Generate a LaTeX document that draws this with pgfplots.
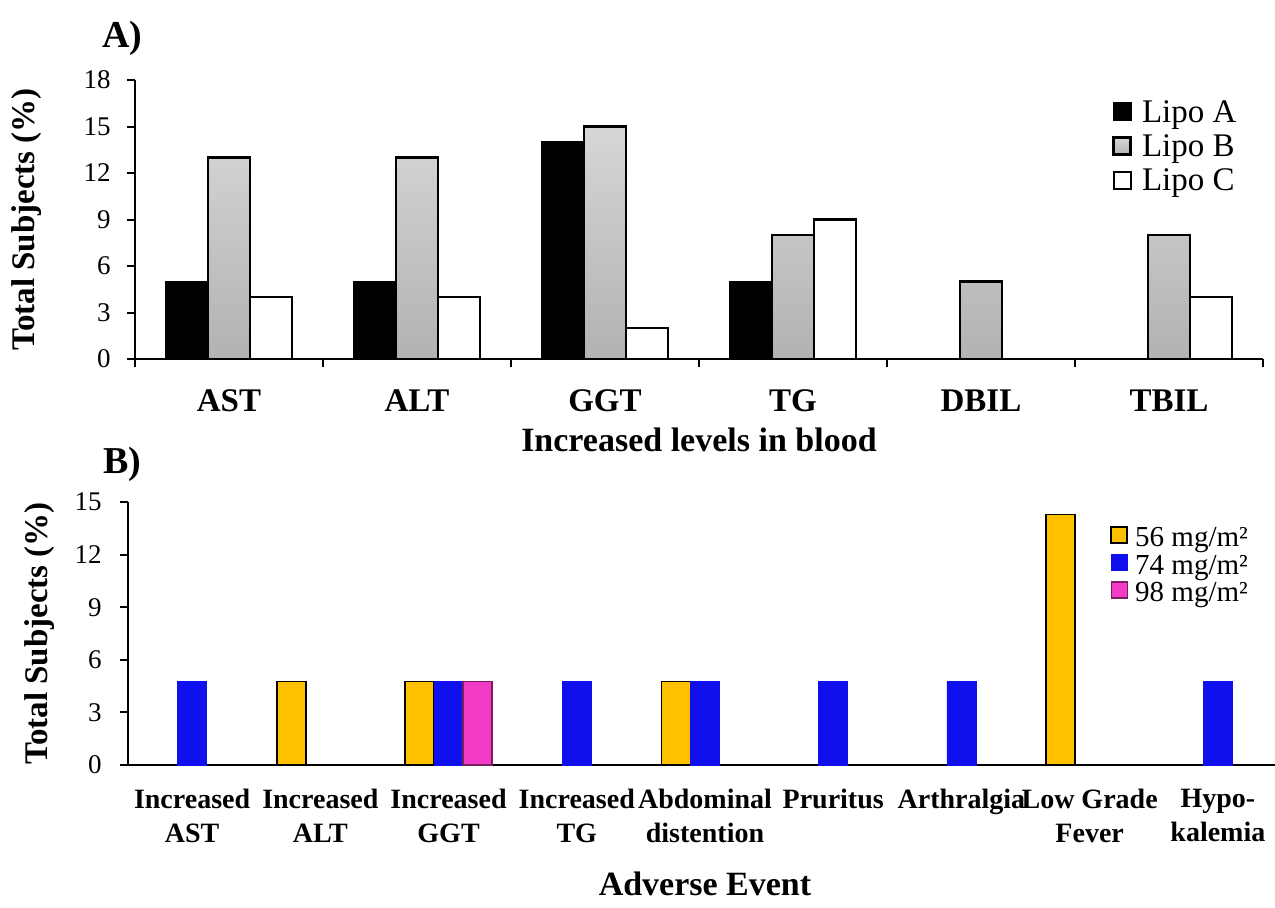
\documentclass[border=0pt]{standalone}
\usepackage{fontspec}
\setmainfont{Liberation Serif}
\usepackage{pgfplots}
\pgfplotsset{compat=1.18}
\definecolor{barorange}{HTML}{FFC000}
\definecolor{barblue}{HTML}{1010EE}
\definecolor{barpink}{HTML}{F23CC8}
\definecolor{pinkedge}{HTML}{7A1E60}
\definecolor{graytop}{HTML}{D6D6D6}
\definecolor{graybot}{HTML}{B2B2B2}
\pgfplotsset{
  sqlegA/.style={legend image code/.code={\draw[##1] (0pt,-2.6pt) rectangle (8.5pt,5.9pt); \path (12pt,0pt);}},
  sqlegB/.style={legend image code/.code={\draw[##1] (0pt,-2.2pt) rectangle (8pt,5.8pt); \path (10pt,0pt);}},
}
\begin{document}
\begin{tikzpicture}
\useasboundingbox (0,0) rectangle (637.5pt,-453.5pt);
\fill[white] (0,0) rectangle (637.5pt,-453.5pt);
\node[anchor=base west, inner sep=0pt, font=\fontsize{19}{22}\selectfont\bfseries] at (51pt,-23.5pt) {A)};
\node[anchor=base west, inner sep=0pt, font=\fontsize{19}{22}\selectfont\bfseries] at (51.5pt,-236.5pt) {B)};

\begin{axis}[
  at={(67.5pt,-179.5pt)}, anchor=south west,
  scale only axis, width=564pt, height=139.5pt,
  xmin=-0.5, xmax=5.5, ymin=0, ymax=18,
  axis x line*=bottom, axis y line*=left,
  axis line style={line width=1pt, -},
  ybar=0pt, bar width=21pt,
  xtick={0,...,5}, xticklabels={AST,ALT,GGT,TG,DBIL,TBIL},
  major x tick style={draw=none},
  minor xtick={-0.5,0.5,...,5.5},
  minor x tick style={line width=1pt, black},
  minor tick length=4pt,
  ytick={0,3,...,18},
  major tick length=4pt,
  tick align=outside,
  y tick style={line width=1pt, black},
  xticklabel style={font=\fontsize{16.5}{19}\selectfont\bfseries, anchor=base, yshift=-22pt, inner sep=0pt},
  yticklabel style={font=\fontsize{13.5}{16}\selectfont, anchor=east, inner sep=0pt, xshift=-8pt},
  /pgf/number format/assume math mode=true,
  xlabel={Increased levels in blood},
  xlabel style={at={(axis description cs:0.5,0)}, anchor=base, yshift=-46pt, font=\fontsize{17}{20}\selectfont\bfseries},
  ylabel={Total Subjects (\%)},
  ylabel style={at={(axis description cs:-0.0957,0.5)}, anchor=center, font=\fontsize{16.5}{19}\selectfont\bfseries},
  legend style={at={(rel axis cs:0.866,0.94)}, anchor=north west, draw=none, fill=none, inner sep=0pt,
    font=\fontsize{16.5}{19}\selectfont, row sep=-0.8pt, column sep=0pt,
    nodes={inner sep=1.5pt, text height=11pt, text depth=4pt}},
  legend cell align=left,
]
\addplot[sqlegA, fill=black, draw=black, line width=1pt] coordinates {(0,5) (1,5) (2,14) (3,5)};
\addplot[sqlegA, top color=graytop, bottom color=graybot, draw=black, line width=1.4pt] coordinates {(0,13) (1,13) (2,15) (3,8) (4,5) (5,8)};
\addplot[sqlegA, fill=white, draw=black, line width=1.1pt] coordinates {(0,4) (1,4) (2,2) (3,9) (5,4)};
\legend{Lipo A, Lipo B, Lipo C}
\end{axis}

\begin{axis}[
  at={(64pt,-382.5pt)}, anchor=south west,
  scale only axis, width=577pt, height=131.5pt,
  xmin=-0.5, xmax=8.5, ymin=0, ymax=15,
  axis x line*=bottom, axis y line*=left,
  axis line style={line width=1pt, -},
  ybar=0pt, bar width=14.5pt,
  xtick={0,...,8},
  xticklabels={{Increased\\AST},{Increased\\ALT},{Increased\\GGT},{Increased\\TG},{Abdominal\\distention},{Pruritus},{Arthralgia},{Low Grade\\Fever},{Hypo-\\kalemia}},
  x tick style={draw=none},
  ytick={0,3,...,15},
  major tick length=4pt,
  tick align=outside,
  y tick style={line width=1pt, black},
  xticklabel style={font=\fontsize{14}{17}\selectfont\bfseries, align=center, anchor=north, inner sep=0pt, yshift=-8pt},
  yticklabel style={font=\fontsize{13.5}{16}\selectfont, anchor=east, inner sep=0pt, xshift=-9pt},
  /pgf/number format/assume math mode=true,
  xlabel={Adverse Event},
  xlabel style={at={(axis description cs:0.5,0)}, anchor=base, yshift=-65pt, font=\fontsize{17}{20}\selectfont\bfseries},
  ylabel={Total Subjects (\%)},
  ylabel style={at={(axis description cs:-0.0767,0.5)}, anchor=center, font=\fontsize{16.5}{19}\selectfont\bfseries},
  legend style={at={(rel axis cs:0.851,0.915)}, anchor=north west, draw=none, fill=none, inner sep=0pt,
    font=\fontsize{14.5}{17}\selectfont, row sep=-0.3pt, column sep=0pt,
    nodes={inner sep=1.5pt, text height=9.5pt, text depth=1.5pt}},
  legend cell align=left,
]
\addplot[sqlegB, fill=barorange, draw=black, line width=0.9pt] coordinates {(1,4.76) (2,4.76) (4,4.76) (7,14.29)};
\addplot[sqlegB, fill=barblue, draw=barblue, line width=0.4pt] coordinates {(0,4.76) (2,4.76) (3,4.76) (4,4.76) (5,4.76) (6,4.76) (8,4.76)};
\addplot[sqlegB, fill=barpink, draw=pinkedge, line width=0.7pt] coordinates {(2,4.76)};
\legend{56 mg/m², 74 mg/m², 98 mg/m²}
\end{axis}
\end{tikzpicture}
\end{document}
